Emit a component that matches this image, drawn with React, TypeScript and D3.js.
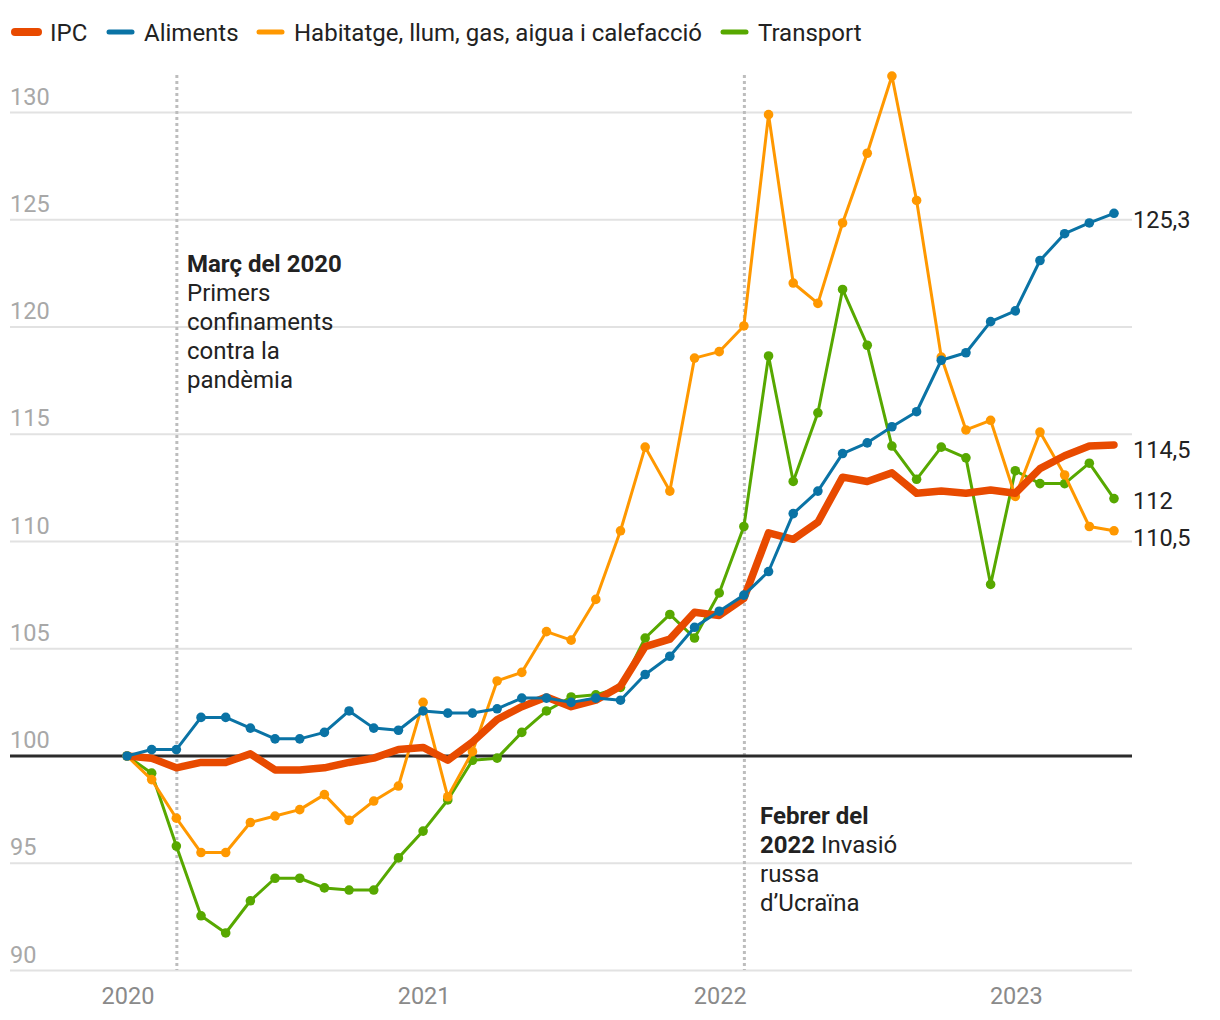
import React from "react";
import * as d3 from "d3";

const ipc = [
  100, 99.9, 99.45, 99.7, 99.7, 100.1, 99.35, 99.35, 99.45, 99.7, 99.9, 100.3,
  100.4, 99.8, 100.65, 101.7, 102.3, 102.75, 102.3, 102.6, 103.25, 105.1, 105.45, 106.7,
  106.55, 107.35, 110.4, 110.1, 110.9, 113.0, 112.8, 113.2, 112.25, 112.35, 112.25, 112.4,
  112.25, 113.4, 114.0, 114.45, 114.5,
];
const aliments = [
  100, 100.3, 100.3, 101.8, 101.8, 101.3, 100.8, 100.8, 101.1, 102.1, 101.3, 101.2,
  102.1, 102.0, 102.0, 102.2, 102.7, 102.7, 102.5, 102.7, 102.6, 103.8, 104.65, 106.0,
  106.75, 107.5, 108.6, 111.3, 112.35, 114.1, 114.6, 115.35, 116.05, 118.45, 118.8, 120.25,
  120.75, 123.1, 124.35, 124.85, 125.3,
];
const habitatge = [
  100, 98.9, 97.1, 95.5, 95.5, 96.9, 97.2, 97.5, 98.2, 97.0, 97.9, 98.6,
  102.5, 98.1, 100.2, 103.5, 103.9, 105.8, 105.4, 107.3, 110.5, 114.4, 112.35, 118.55,
  118.85, 120.05, 129.9, 122.05, 121.1, 124.85, 128.1, 131.7, 125.9, 118.6, 115.2, 115.65,
  112.1, 115.1, 113.1, 110.7, 110.5,
];
const transport = [
  100, 99.2, 95.8, 92.55, 91.75, 93.25, 94.3, 94.3, 93.85, 93.75, 93.75, 95.25,
  96.5, 97.95, 99.8, 99.9, 101.1, 102.1, 102.75, 102.85, 103.2, 105.5, 106.6, 105.5,
  107.6, 110.7, 118.65, 112.8, 116.0, 121.75, 119.15, 114.45, 112.9, 114.4, 113.9, 108.0,
  113.3, 112.7, 112.7, 113.65, 112.0,
];

const yTicks = [90, 95, 100, 105, 110, 115, 120, 125, 130];
const yearTicks = [
  { idx: 0, label: "2020" },
  { idx: 12, label: "2021" },
  { idx: 24, label: "2022" },
  { idx: 36, label: "2023" },
];

const seriesNames = ["IPC", "Aliments", "Habitatge, llum, gas, aigua i calefacció", "Transport"];
const seriesColors = ["#e84a00", "#0a73a5", "#ff9800", "#57a800"];
const seriesData = [ipc, aliments, habitatge, transport];

const endLabels = [
  { value: 125.3, text: "125,3" },
  { value: 114.5, text: "114,5" },
  { value: 112, text: "112" },
  { value: 110.5, text: "110,5" },
];
const endLabelDy = [15, 13, 10, 15];

const FONT = "Roboto, 'Noto Sans', sans-serif";

export default function App() {
  const W = 1220;
  const H = 1020;
  const x = d3.scaleLinear().domain([0, 40]).range([127, 1114]);
  const y = d3.scaleLinear().domain([90, 130]).range([970.5, 112.5]);
  const gridX0 = 10;
  const gridX1 = 1132;

  const line = d3
    .line<number>()
    .x((_, i) => x(i))
    .y((d) => y(d));

  const drawOrder = [3, 2, 0, 1];
  const legendX = [11, 105, 255, 719];

  return (
    <svg
      width={W}
      height={H}
      style={{ position: "absolute", left: 0, top: 0, background: "#fff" }}
      fontFamily={FONT}
    >
      {yTicks.map((t) => (
        <g key={t}>
          {t !== 100 && (
            <line x1={gridX0} x2={gridX1} y1={y(t)} y2={y(t)} stroke="#e2e2e2" strokeWidth={2} />
          )}
          <text x={gridX0} y={y(t) - 8} fontSize={23.5} fill="#a8a8a8">
            {t}
          </text>
        </g>
      ))}

      {yearTicks.map((t) => (
        <text key={t.label} x={x(t.idx) + 1} y={1004} fontSize={23.5} fill="#8a8a8a" textAnchor="middle">
          {t.label}
        </text>
      ))}

      {[2, 25].map((i) => (
        <line
          key={i}
          x1={x(i) + 0.5}
          x2={x(i) + 0.5}
          y1={75}
          y2={970}
          stroke="#bdbdbd"
          strokeWidth={3}
          strokeDasharray="3,3"
        />
      ))}

      <line x1={gridX0} x2={gridX1} y1={y(100)} y2={y(100)} stroke="#2b2b2b" strokeWidth={3} />

      {drawOrder.map((si) => {
        const data = seriesData[si];
        const color = seriesColors[si];
        const isIpc = si === 0;
        return (
          <g key={si}>
            <path
              d={line(data) || ""}
              fill="none"
              stroke={color}
              strokeWidth={isIpc ? 7.5 : 3}
              strokeLinejoin="round"
              strokeLinecap="round"
            />
            {!isIpc &&
              data.map((v, i) => <circle key={i} cx={x(i)} cy={y(v)} r={4.8} fill={color} />)}
          </g>
        );
      })}

      {endLabels.map((l, i) => (
        <text key={l.text} x={1133} y={y(l.value) + endLabelDy[i]} fontSize={23.5} fill="#222">
          {l.text}
        </text>
      ))}

      <text fontSize={24} fill="#222">
        <tspan x={187} y={272} fontWeight="bold">Març del 2020</tspan>
        <tspan x={187} y={301}>Primers</tspan>
        <tspan x={187} y={330}>confinaments</tspan>
        <tspan x={187} y={359}>contra la</tspan>
        <tspan x={187} y={388}>pandèmia</tspan>
      </text>
      <text fontSize={24} fill="#222">
        <tspan x={760} y={824} fontWeight="bold">Febrer del</tspan>
        <tspan x={760} y={853} fontWeight="bold">2022</tspan>
        <tspan> Invasió</tspan>
        <tspan x={760} y={882}>russa</tspan>
        <tspan x={760} y={911}>d’Ucraïna</tspan>
      </text>

      {seriesNames.map((n, i) => (
        <g key={n}>
          <line
            x1={legendX[i] + 4}
            x2={legendX[i] + 27}
            y1={32}
            y2={32}
            stroke={seriesColors[i]}
            strokeWidth={i === 0 ? 8 : 5}
            strokeLinecap="round"
          />
          <text x={legendX[i] + 39} y={40.5} fontSize={24} fill="#222">
            {n}
          </text>
        </g>
      ))}
    </svg>
  );
}
